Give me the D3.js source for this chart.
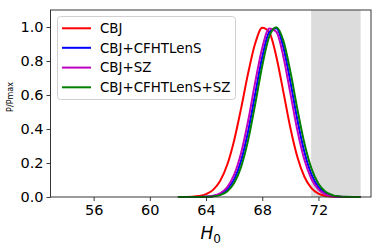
<!DOCTYPE html>
<html>
<head>
<meta charset="utf-8">
<script src="https://cdn.jsdelivr.net/npm/d3@7"></script>
<style>
  html, body { margin: 0; padding: 0; background: #fff; }
  svg { display: block; font-family: "DejaVu Sans", sans-serif; }
</style>
</head>
<body>
<div id="chart"></div>
<script>
(function() {
    'use strict';

    // H0 grid (km/s/Mpc) and normalised posteriors
    var h0 = [62, 62.5, 63, 63.5, 64, 64.5, 65, 65.5, 66, 66.5, 67, 67.5, 68, 68.5,
              69, 69.5, 70, 70.5, 71, 71.5, 72, 72.5, 73, 73.5, 74, 74.5, 75];

    var cbj = [0.0001, 0.0005, 0.0018, 0.0059, 0.0166, 0.042, 0.094, 0.188, 0.333, 0.523,
               0.730, 0.904, 0.995, 0.968, 0.827, 0.620, 0.407, 0.235, 0.119, 0.052,
               0.020, 0.007, 0.002, 0.0006, 0.0001, 0, 0];
    var cbjLens = [0, 0, 0.0001, 0.0003, 0.0014, 0.005, 0.016, 0.044, 0.104, 0.215,
                   0.388, 0.607, 0.823, 0.970, 0.992, 0.881, 0.679, 0.454, 0.264, 0.133,
                   0.058, 0.022, 0.007, 0.002, 0.0005, 0.0001, 0];
    var cbjSz = [0, 0, 0.0001, 0.0005, 0.002, 0.007, 0.022, 0.057, 0.131, 0.261,
                 0.450, 0.675, 0.877, 0.991, 0.972, 0.827, 0.611, 0.392, 0.219, 0.106,
                 0.044, 0.016, 0.005, 0.0014, 0.0003, 0.0001, 0];
    var cbjLensSz = [0, 0, 0, 0.0002, 0.0009, 0.0034, 0.0113, 0.033, 0.082, 0.179,
                     0.336, 0.547, 0.772, 0.944, 0.999, 0.920, 0.739, 0.517, 0.316, 0.168,
                     0.078, 0.031, 0.011, 0.0034, 0.0009, 0.0002, 0];

    var seriesNames = ['CBJ', 'CBJ+CFHTLenS', 'CBJ+SZ', 'CBJ+CFHTLenS+SZ'];
    var seriesValues = [cbj, cbjLens, cbjSz, cbjLensSz];
    var seriesColors = ['#ff0000', '#0000ff', '#bf00bf', '#008000'];

    var band = [71.48, 75.0];       // shaded region
    var xTicks = [56, 60, 64, 68, 72];
    var yTicks = [0, 0.2, 0.4, 0.6, 0.8, 1.0];

    var width = 381, height = 252;
    var margin = { left: 50.5, right: 10, top: 10, bottom: 55 };

    var svg = d3.select('#chart').append('svg')
        .attr('width', width)
        .attr('height', height);

    var x = d3.scaleLinear().domain([52.93, 75.74]).range([margin.left, width - margin.right]);
    var y = d3.scaleLinear().domain([0, 1.1]).range([height - margin.bottom, margin.top]);

    // Shaded band
    svg.append('rect')
        .attr('x', x(band[0]))
        .attr('y', y(1.1))
        .attr('width', x(band[1]) - x(band[0]))
        .attr('height', y(0) - y(1.1))
        .attr('fill', '#dcdcdc');

    // Curves
    var line = d3.line()
        .x(function(d) { return x(d[0]); })
        .y(function(d) { return y(d[1]); })
        .curve(d3.curveMonotoneX);

    seriesValues.forEach(function(vals, i) {
        svg.append('path')
            .datum(h0.map(function(v, j) { return [v, vals[j]]; }))
            .attr('d', line)
            .attr('fill', 'none')
            .attr('stroke', seriesColors[i])
            .attr('stroke-width', 2);
    });

    // Axes
    var xAxis = svg.append('g')
        .attr('transform', 'translate(0,' + y(0) + ')')
        .call(d3.axisBottom(x).tickValues(xTicks).tickSize(4).tickPadding(4).tickFormat(d3.format('d')));
    var yAxis = svg.append('g')
        .attr('transform', 'translate(' + x.range()[0] + ',0)')
        .call(d3.axisLeft(y).tickValues(yTicks).tickSize(4).tickPadding(3).tickFormat(d3.format('.1f')));

    [xAxis, yAxis].forEach(function(a) {
        a.select('.domain').remove();
        a.selectAll('line').attr('stroke', '#222').attr('stroke-width', 0.9);
        a.selectAll('text')
            .attr('fill', '#000')
            .style('font-family', '"DejaVu Sans", sans-serif')
            .style('font-size', '14.5px');
    });

    // Frame
    svg.append('rect')
        .attr('x', x.range()[0])
        .attr('y', y(1.1))
        .attr('width', x.range()[1] - x.range()[0])
        .attr('height', y(0) - y(1.1))
        .attr('fill', 'none')
        .attr('stroke', '#222')
        .attr('stroke-width', 0.9);

    // Axis labels
    var xl = svg.append('text')
        .attr('x', (x.range()[0] + x.range()[1]) / 2)
        .attr('y', 239)
        .attr('text-anchor', 'middle')
        .style('font-size', '17px')
        .style('font-style', 'italic');
    xl.append('tspan').text('H');
    xl.append('tspan').attr('dy', 3.5).style('font-size', '12px').style('font-style', 'normal').text('0');

    svg.append('text')
        .attr('transform', 'translate(12.5,97) rotate(-90)')
        .attr('text-anchor', 'middle')
        .style('font-size', '8px')
        .text('P/Pmax');

    // Legend
    var lg = svg.append('g');
    lg.append('rect')
        .attr('x', 57.5).attr('y', 16.5)
        .attr('width', 178).attr('height', 83)
        .attr('rx', 3)
        .attr('fill', '#fff').attr('fill-opacity', 0.8)
        .attr('stroke', '#d0d0d0').attr('stroke-width', 1);

    var rowY = [28.3, 47.8, 67.6, 87.3];
    seriesNames.forEach(function(name, i) {
        lg.append('line')
            .attr('x1', 62).attr('x2', 91)
            .attr('y1', rowY[i]).attr('y2', rowY[i])
            .attr('stroke', seriesColors[i])
            .attr('stroke-width', 2);
        lg.append('text')
            .attr('x', 100)
            .attr('y', rowY[i])
            .attr('dy', '0.36em')
            .style('font-size', '13.4px')
            .text(name);
    });
})();
</script>
</body>
</html>
